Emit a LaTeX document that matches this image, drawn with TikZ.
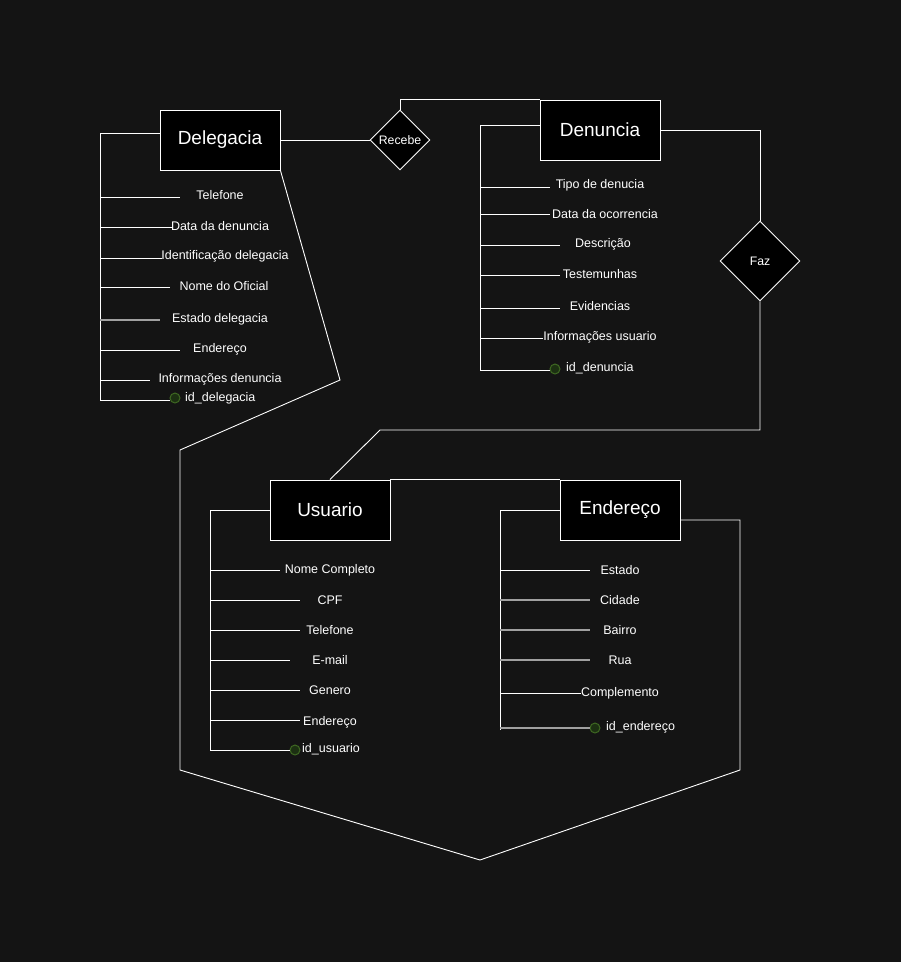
\documentclass[tikz,border=0pt]{standalone}
\usepackage{fontspec}
\setmainfont{Liberation Sans}
\usetikzlibrary{shapes.geometric}
\definecolor{bg}{RGB}{20,20,20}
\definecolor{keyfill}{RGB}{28,48,18}
\definecolor{keydraw}{RGB}{62,104,34}
\definecolor{dimline}{RGB}{160,160,160}
\tikzset{
  entity/.style={draw=white, fill=black, line width=0.9pt, minimum width=120pt, minimum height=60pt, inner sep=0pt, text=white, font=\fontsize{19}{21}\selectfont},
  rel/.style={diamond, draw=white, fill=black, line width=0.9pt, inner sep=0pt, text=white, font=\fontsize{12.3}{14}\selectfont},
  attr/.style={text=white, inner sep=0pt, font=\fontsize{12.5}{14}\selectfont},
  link/.style={draw=white, line width=0.9pt},
  dimlink/.style={draw=dimline, line width=1.1pt},
  keydot/.style={circle, draw=keydraw, fill=keyfill, line width=1pt, minimum size=10pt, inner sep=0pt},
}
% \attrline{name}{trunk x}{y}{line end x}{text x}{text y}{style}{text}
\newcommand{\attrline}[8]{%
  \coordinate (#1-a) at (#2,#3);
  \coordinate (#1-b) at (#4,#3);
  \node[attr] (#1) at (#5,#6) {#8};
  \draw[#7] (#1-a) -- (#1-b);
}
\begin{document}
\begin{tikzpicture}[x=1pt,y=-1pt]
\fill[bg] (0,0) rectangle (901,962);
\useasboundingbox (0,0) rectangle (901,962);

% entities
\node[entity] (del) at (220,140) {Delegacia};
\node[entity] (den) at (600,130) {Denuncia};
\node[entity] (usu) at (330,510) {Usuario};
\node[entity] (end) at (620,510) {Endereço};

% relationships
\node[rel, minimum width=60pt, minimum height=60pt] (rec) at (400,140) {Recebe};
\node[rel, minimum width=80pt, minimum height=80pt] (faz) at (760,261) {Faz};

% relationship connectors
\draw[link] (del.east) -- (rec.west);
\draw[link] (rec.north) |- (den.north west);
\draw[link] (den.east) -| (faz.north);
\coordinate (f1) at (760,430);
\coordinate (f2) at (380,430);
\draw[link] (faz.south) -- (f1) -- (f2) -- (usu.north);
\draw[link] (usu.north east) -- (end.north west);
\coordinate (e0) at (680,520);
\coordinate (e1) at (740,520);
\coordinate (e2) at (740,770);
\coordinate (e3) at (480,860);
\coordinate (e4) at (180,770);
\coordinate (e5) at (180,450);
\coordinate (e6) at (340,380);
\draw[link] (e0) -- (e1) -- (e2) -- (e3) -- (e4) -- (e5) -- (e6) -- (del.south east);

% Delegacia attributes
\coordinate (dt0) at (100,133);
\coordinate (dt1) at (160,133);
\coordinate (dt2) at (100,400);
\draw[link] (dt1) -- (dt0) -- (dt2);
\attrline{d1}{100}{197}{180}{220}{195}{link}{Telefone}
\attrline{d2}{100}{227}{172}{220}{226}{link}{Data da denuncia}
\attrline{d3}{100}{258}{162}{225}{256}{link}{Identificação delegacia}
\attrline{d4}{100}{287}{170}{224}{286}{link}{Nome do Oficial}
\attrline{d5}{100}{320}{160}{220}{319}{dimlink}{Estado delegacia}
\attrline{d6}{100}{350}{180}{220}{349}{link}{Endereço}
\attrline{d7}{100}{380}{150}{220}{379}{link}{Informações denuncia}
\coordinate (d8-a) at (100,400);
\node[keydot] (d8k) at (175,398) {};
\draw[link] (d8-a) -- (d8k.west |- d8-a);
\node[attr, anchor=west] (d8) at (185,398) {id\_delegacia};

% Denuncia attributes
\coordinate (nt0) at (480,125);
\coordinate (nt1) at (540,125);
\coordinate (nt2) at (480,370);
\draw[link] (nt1) -- (nt0) -- (nt2);
\attrline{n1}{480}{187}{550}{600}{185}{link}{Tipo de denucia}
\attrline{n2}{480}{214}{550}{605}{214}{link}{Data da ocorrencia}
\attrline{n3}{480}{245}{560}{603}{244}{link}{Descrição}
\attrline{n4}{480}{275}{560}{600}{274}{link}{Testemunhas}
\attrline{n5}{480}{308}{560}{600}{306}{link}{Evidencias}
\attrline{n6}{480}{338}{543}{600}{337}{link}{Informações usuario}
\coordinate (n7-a) at (480,370);
\node[keydot] (n7k) at (555,369) {};
\draw[link] (n7-a) -- (n7k.west |- n7-a);
\node[attr, anchor=west] (n7) at (566,368) {id\_denuncia};

% Usuario attributes
\coordinate (ut0) at (210,750);
\draw[link] (usu.west) -| (ut0);
\attrline{u1}{210}{570}{280}{330}{570}{link}{Nome Completo}
\attrline{u2}{210}{600}{300}{330}{600}{link}{CPF}
\attrline{u3}{210}{630}{300}{330}{630}{link}{Telefone}
\attrline{u4}{210}{660}{290}{330}{660}{link}{E-mail}
\attrline{u5}{210}{690}{300}{330}{690}{link}{Genero}
\attrline{u6}{210}{720}{300}{330}{722}{link}{Endereço}
\coordinate (u7-a) at (210,750);
\node[keydot] (u7k) at (295,750) {};
\draw[link] (u7-a) -- (u7k.west);
\node[attr, anchor=west] (u7) at (302,749) {id\_usuario};

% Endereço attributes
\coordinate (et0) at (500,730);
\draw[link] (end.west) -| (et0);
\attrline{a1}{500}{570}{590}{620}{570}{link}{Estado}
\attrline{a2}{500}{600}{590}{620}{600}{dimlink}{Cidade}
\attrline{a3}{500}{630}{590}{620}{630}{dimlink}{Bairro}
\attrline{a4}{500}{660}{590}{620}{660}{dimlink}{Rua}
\attrline{a5}{500}{693}{581}{620}{693}{link}{Complemento}
\coordinate (a6-a) at (500,728);
\node[keydot] (a6k) at (595,728) {};
\draw[dimlink] (a6-a) -- (a6k.west);
\node[attr, anchor=west] (a6) at (606,727) {id\_endereço};
\end{tikzpicture}
\end{document}
